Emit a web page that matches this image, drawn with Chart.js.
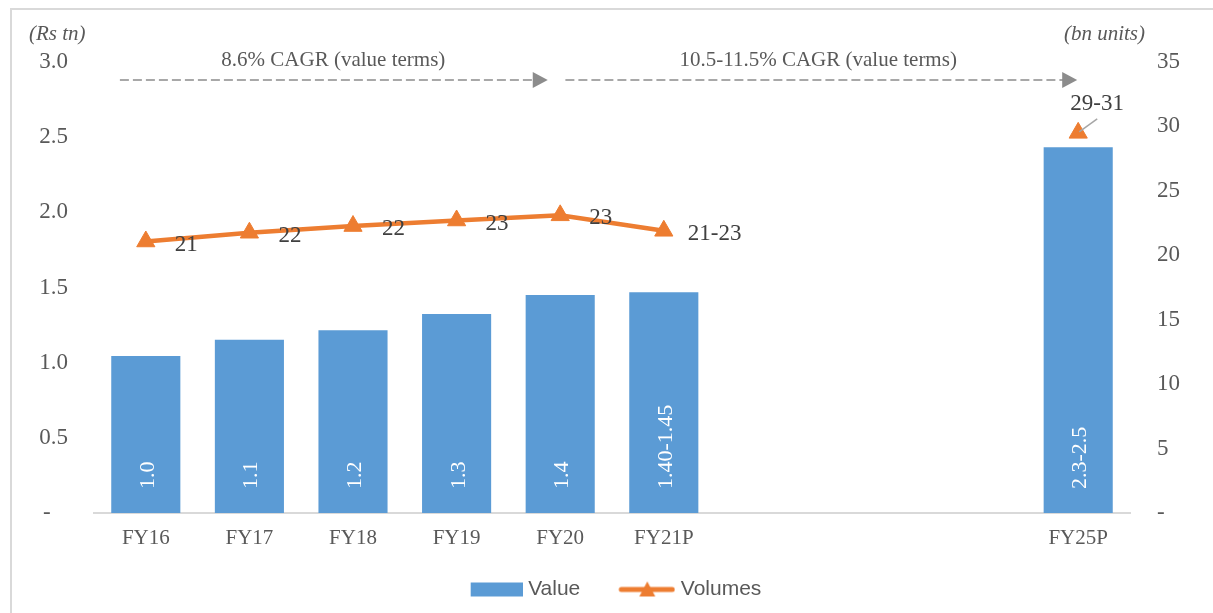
<!DOCTYPE html>
<html>
<head>
<meta charset="utf-8">
<script src="https://cdn.jsdelivr.net/npm/chart.js@4.4.1/dist/chart.umd.min.js"></script>
<style>
  html, body { margin: 0; padding: 0; background: #fff; overflow: hidden; }
  #wrap { position: relative; width: 1213px; height: 613px; }
  #frame { position: absolute; left: 10px; top: 8px; width: 1300px; height: 700px;
           border: 2px solid #d9d9d9; box-sizing: border-box; pointer-events: none; }
  canvas { position: absolute; left: 0; top: 0; }
</style>
</head>
<body>
<div id="wrap">
  <div id="frame"></div>
  <canvas id="marketChart" width="1213" height="613"></canvas>
</div>
<script>
/* ===============================
   DATA
================================ */
const categories = ["FY16", "FY17", "FY18", "FY19", "FY20", "FY21P", "", "", "", "FY25P"];

// value, Rs tn (left axis)
const valueData = [1.044, 1.153, 1.215, 1.324, 1.45, 1.468, null, null, null, 2.433];
const valueLabels = ["1.0", "1.1", "1.2", "1.3", "1.4", "1.40-1.45", null, null, null, "2.3-2.5"];

// volumes, bn units (right axis)
const volumeData = [21.07, 21.75, 22.27, 22.7, 23.1, 21.9, null, null, null, 29.5];
const volumeLabels = ["21", "22", "22", "23", "23", "21-23", null, null, null, "29-31"];

const valueAxis = { max: 3, step: 0.5 };
const volumeAxis = { max: 35, step: 5 };

// CAGR arrows: [from, to, text centre] in category positions
const cagrNotes = [
  { text: "8.6% CAGR (value terms)", from: -0.25, to: 3.88, mid: 1.81 },
  { text: "10.5-11.5% CAGR (value terms)", from: 4.05, to: 8.99, mid: 6.49 },
];

const BLUE = "#5b9bd5";
const ORANGE = "#ed7d31";
const SERIF = "'Liberation Serif', 'Times New Roman', serif";

/* ===============================
   LEGEND SWATCHES
================================ */
function swatch(draw) {
  const c = document.createElement("canvas");
  c.width = 66;
  c.height = 22;
  draw(c.getContext("2d"));
  return c;
}

const valueSwatch = swatch((g) => {
  g.fillStyle = BLUE;
  g.fillRect(14, 4, 52, 14);
});

const volumeSwatch = swatch((g) => {
  g.strokeStyle = ORANGE;
  g.lineWidth = 5;
  g.lineCap = "round";
  g.beginPath();
  g.moveTo(12, 11);
  g.lineTo(63, 11);
  g.stroke();
  g.fillStyle = ORANGE;
  g.beginPath();
  g.moveTo(38, 3);
  g.lineTo(46, 18);
  g.lineTo(30, 18);
  g.closePath();
  g.fill();
});

/* ===============================
   ANNOTATIONS (labels, arrows)
================================ */
const annotate = {
  id: "annotate",
  afterLayout(chart) {
    // nudge legend row to the right
    chart.legend.left += 10;
  },
  afterDatasetsDraw(chart) {
    const { ctx, chartArea: a } = chart;
    const step = (a.right - a.left) / categories.length;
    const at = (i) => a.left + (i + 0.5) * step;

    ctx.save();

    // bar labels, rotated, inside base
    const bars = chart.getDatasetMeta(0).data;
    ctx.font = "22px " + SERIF;
    ctx.fillStyle = "#ffffff";
    ctx.textAlign = "left";
    ctx.textBaseline = "alphabetic";
    bars.forEach((bar, i) => {
      if (valueLabels[i] == null) return;
      ctx.save();
      ctx.translate(bar.x + 8, bar.base - 24);
      ctx.rotate(-Math.PI / 2);
      ctx.fillText(valueLabels[i], 0, 0);
      ctx.restore();
    });

    // line labels
    const pts = chart.getDatasetMeta(1).data;
    ctx.font = "23px " + SERIF;
    ctx.fillStyle = "#404040";
    ctx.textBaseline = "middle";
    pts.forEach((p, i) => {
      if (volumeLabels[i] == null) return;
      if (i === categories.length - 1) {
        ctx.textAlign = "center";
        ctx.fillText(volumeLabels[i], p.x + 19, p.y - 29);
        ctx.strokeStyle = "#a6a6a6";
        ctx.lineWidth = 1.5;
        ctx.beginPath();
        ctx.moveTo(p.x + 19, p.y - 14);
        ctx.lineTo(p.x + 1, p.y - 1);
        ctx.stroke();
      } else {
        ctx.textAlign = "left";
        ctx.fillText(volumeLabels[i], p.x + (i === 5 ? 24 : 29), p.y + 3);
      }
    });

    // unit captions
    ctx.font = "italic 21px " + SERIF;
    ctx.fillStyle = "#595959";
    ctx.textBaseline = "alphabetic";
    ctx.textAlign = "left";
    ctx.fillText("(Rs tn)", a.left - 65, 40);
    ctx.textAlign = "right";
    ctx.fillText("(bn units)", a.right + 15, 40);

    // CAGR arrows
    const y = 80;
    cagrNotes.forEach((n) => {
      const x0 = at(n.from);
      const x1 = at(n.to);
      ctx.strokeStyle = "#8c8c8c";
      ctx.lineWidth = 1.5;
      ctx.setLineDash([9, 4]);
      ctx.beginPath();
      ctx.moveTo(x0, y);
      ctx.lineTo(x1 - 14, y);
      ctx.stroke();
      ctx.setLineDash([]);
      ctx.fillStyle = "#8c8c8c";
      ctx.beginPath();
      ctx.moveTo(x1, y);
      ctx.lineTo(x1 - 15, y - 8);
      ctx.lineTo(x1 - 15, y + 8);
      ctx.closePath();
      ctx.fill();

      ctx.font = "21px " + SERIF;
      ctx.fillStyle = "#595959";
      ctx.textAlign = "center";
      ctx.fillText(n.text, at(n.mid), 66);
    });

    ctx.restore();
  },
};

/* ===============================
   CHART
================================ */
const el = document.getElementById("marketChart");

new Chart(el, {
  type: "bar",
  data: {
    labels: categories,
    datasets: [
      {
        label: "Value",
        data: valueData,
        backgroundColor: BLUE,
        barPercentage: 0.667,
        categoryPercentage: 1,
        yAxisID: "y",
        order: 2,
      },
      {
        type: "line",
        label: "Volumes",
        data: volumeData,
        borderColor: ORANGE,
        borderWidth: 4.5,
        pointStyle: "triangle",
        pointRadius: 10.5,
        pointHoverRadius: 10.5,
        pointBackgroundColor: ORANGE,
        pointBorderColor: ORANGE,
        pointBorderWidth: 1,
        spanGaps: false,
        tension: 0,
        yAxisID: "y1",
        order: 1,
      },
    ],
  },
  options: {
    responsive: false,
    animation: false,
    layout: { padding: { top: 62, bottom: 3, left: 0, right: 0 } },
    plugins: {
      tooltip: { enabled: false },
      legend: {
        position: "bottom",
        labels: {
          usePointStyle: true,
          pointStyleWidth: 56,
          padding: 34,
          color: "#595959",
          font: { family: "'Liberation Sans', Arial, sans-serif", size: 21 },
          generateLabels: () => [
            { text: "Value", pointStyle: valueSwatch, datasetIndex: 0, fontColor: "#595959", lineWidth: 0 },
            { text: "Volumes", pointStyle: volumeSwatch, datasetIndex: 1, fontColor: "#595959", lineWidth: 0 },
          ],
        },
      },
    },
    scales: {
      x: {
        grid: { display: false, drawTicks: false },
        border: { display: true, color: "#d9d9d9", width: 2 },
        ticks: {
          autoSkip: false,
          maxRotation: 0,
          padding: 13,
          color: "#595959",
          font: { family: SERIF, size: 21 },
        },
        afterFit: (s) => { s.height = 32; },
      },
      y: {
        position: "left",
        min: 0,
        max: valueAxis.max,
        grid: { display: false, drawTicks: false },
        border: { display: false },
        ticks: {
          stepSize: valueAxis.step,
          padding: 26,
          color: "#595959",
          font: { family: SERIF, size: 23 },
          callback: (v) => (v === 0 ? "-   " : v.toFixed(1)),
        },
        afterFit: (s) => { s.width = 94; },
      },
      y1: {
        position: "right",
        min: 0,
        max: volumeAxis.max,
        grid: { display: false, drawTicks: false },
        border: { display: false },
        ticks: {
          stepSize: volumeAxis.step,
          padding: 27,
          color: "#595959",
          font: { family: SERIF, size: 23 },
          callback: (v) => (v === 0 ? "-" : v),
        },
        afterFit: (s) => { s.width = 83; },
      },
    },
  },
  plugins: [annotate],
});
</script>
</body>
</html>
